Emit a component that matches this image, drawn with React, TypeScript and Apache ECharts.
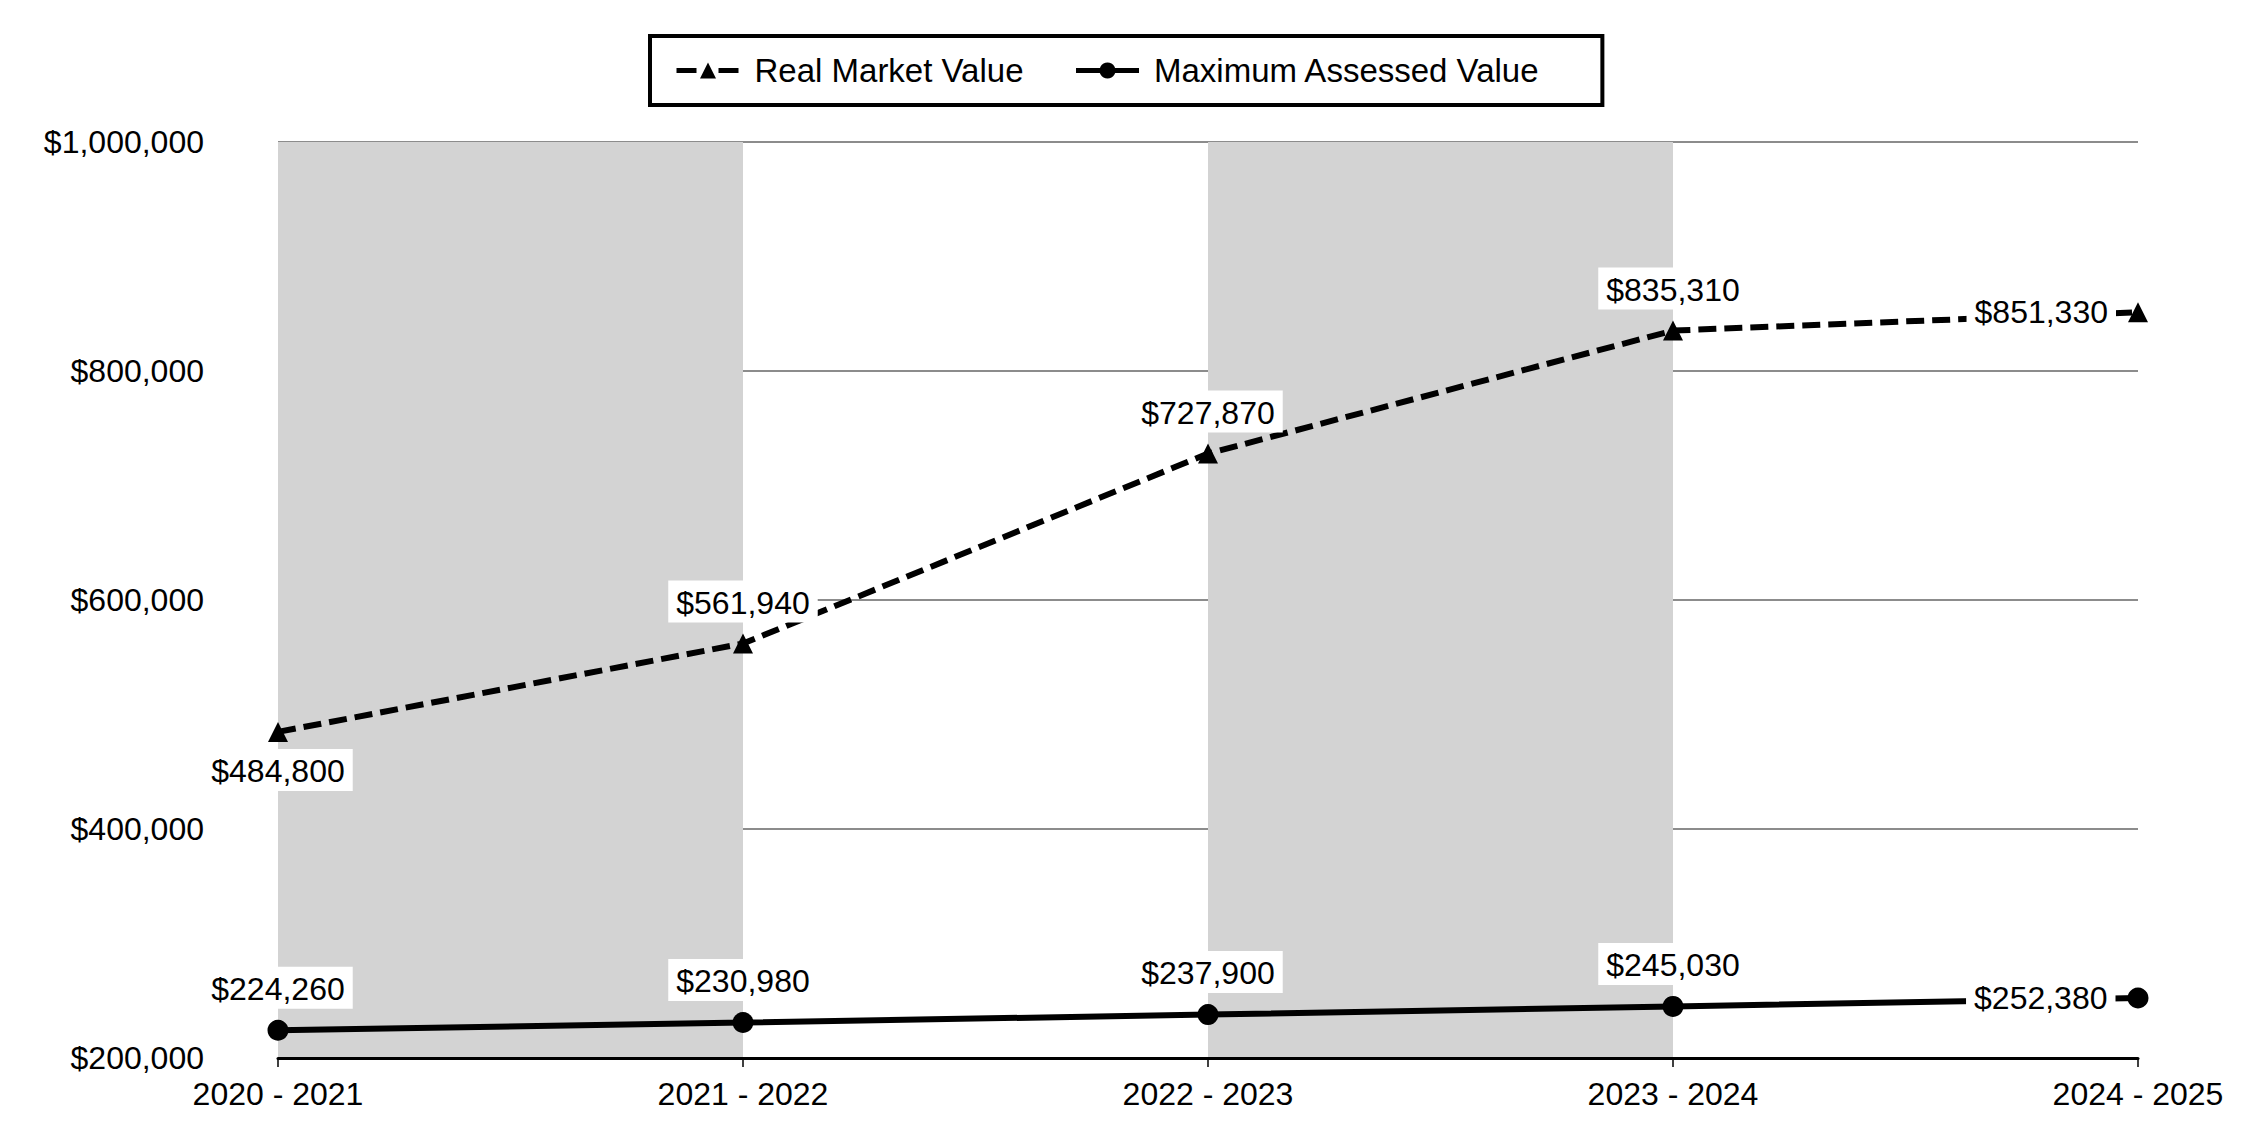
import React, { useEffect, useRef } from "react";
import * as echarts from "echarts";

const categories = ["2020 - 2021", "2021 - 2022", "2022 - 2023", "2023 - 2024", "2024 - 2025"];
const realMarketValue = [484800, 561940, 727870, 835310, 851330];
const maxAssessedValue = [224260, 230980, 237900, 245030, 252380];
const rmvLabelPos = ["bottom", "top", "top", "top", "left"];
const mavLabelPos = ["top", "top", "top", "top", "left"];
const shadedBands = [
  ["2020 - 2021", "2021 - 2022"],
  ["2022 - 2023", "2023 - 2024"],
];
const yMin = 200000;
const yMax = 1000000;
const yStep = 200000;

const FONT = "'Liberation Sans', Arial, sans-serif";
const money = (v: number) => "$" + v.toLocaleString("en-US");

export default function App() {
  const ref = useRef<HTMLDivElement>(null);
  useEffect(() => {
    if (!ref.current) return;
    const chart = echarts.init(ref.current, null, { renderer: "svg" });
    const labelBase = {
      show: true,
      color: "#000",
      fontFamily: FONT,
      fontSize: 32,
      backgroundColor: "#fff",
      padding: [6, 8, 4, 8],
      distance: 11,
      formatter: (p: any) => money(p.value),
    };
    const mkData = (vals: number[], pos: string[]) =>
      vals.map((v, i) => ({
        value: v,
        label: { position: pos[i], distance: pos[i] === "bottom" ? 7 : pos[i] === "left" ? 12 : 11 },
      }));
    chart.setOption({
      animation: false,
      backgroundColor: "#fff",
      textStyle: { fontFamily: FONT },
      legend: {
        data: [
          { name: "Real Market Value", lineStyle: { width: 5, type: [20, 22] } },
          { name: "Maximum Assessed Value", lineStyle: { width: 5 } },
        ],
        left: 650,
        top: 36,
        borderColor: "#000",
        borderWidth: 4,
        padding: [18, 62, 18, 24],
        itemGap: 50,
        itemWidth: 63,
        itemHeight: 20,
        textStyle: { fontSize: 33, color: "#000", fontFamily: FONT, padding: [0, 0, 0, 10] },
      },
      grid: { left: 278, right: 112, top: 142, bottom: 82, containLabel: false },
      xAxis: {
        type: "category",
        data: categories,
        boundaryGap: false,
        z: 1,
        axisLine: { lineStyle: { color: "#000", width: 3 } },
        axisTick: { show: true, length: 9, lineStyle: { color: "#000", width: 1.5 } },
        axisLabel: { color: "#000", fontSize: 32, margin: 20, fontFamily: FONT },
        splitLine: { show: false },
      },
      yAxis: {
        type: "value",
        min: yMin,
        max: yMax,
        interval: yStep,
        z: 1,
        axisLine: { show: false },
        axisTick: { show: false },
        axisLabel: {
          color: "#000",
          fontSize: 32,
          margin: 74,
          fontFamily: FONT,
          formatter: (v: number) => money(v),
        },
        splitLine: { lineStyle: { color: "#8c8c8c", width: 2 } },
      },
      series: [
        {
          name: "bands",
          type: "line",
          data: realMarketValue,
          z: 0,
          silent: true,
          symbol: "none",
          lineStyle: { opacity: 0 },
          markArea: {
            silent: true,
            itemStyle: { color: "#d3d3d3" },
            data: shadedBands.map(([a, b]) => [{ xAxis: a }, { xAxis: b }]),
          },
        },
        {
          name: "Real Market Value",
          type: "line",
          z: 2,
          data: mkData(realMarketValue, rmvLabelPos),
          symbol: "triangle",
          symbolSize: 20,
          itemStyle: { color: "#000" },
          lineStyle: { color: "#000", width: 6, type: [18, 8] },
          label: labelBase,
        },
        {
          name: "Maximum Assessed Value",
          type: "line",
          z: 2,
          data: mkData(maxAssessedValue, mavLabelPos),
          symbol: "circle",
          symbolSize: 21,
          itemStyle: { color: "#000" },
          lineStyle: { color: "#000", width: 6 },
          label: labelBase,
        },
      ],
    });
    return () => chart.dispose();
  }, []);
  return (
    <div
      ref={ref}
      style={{ position: "absolute", left: 0, top: 0, width: 2250, height: 1140 }}
    />
  );
}
